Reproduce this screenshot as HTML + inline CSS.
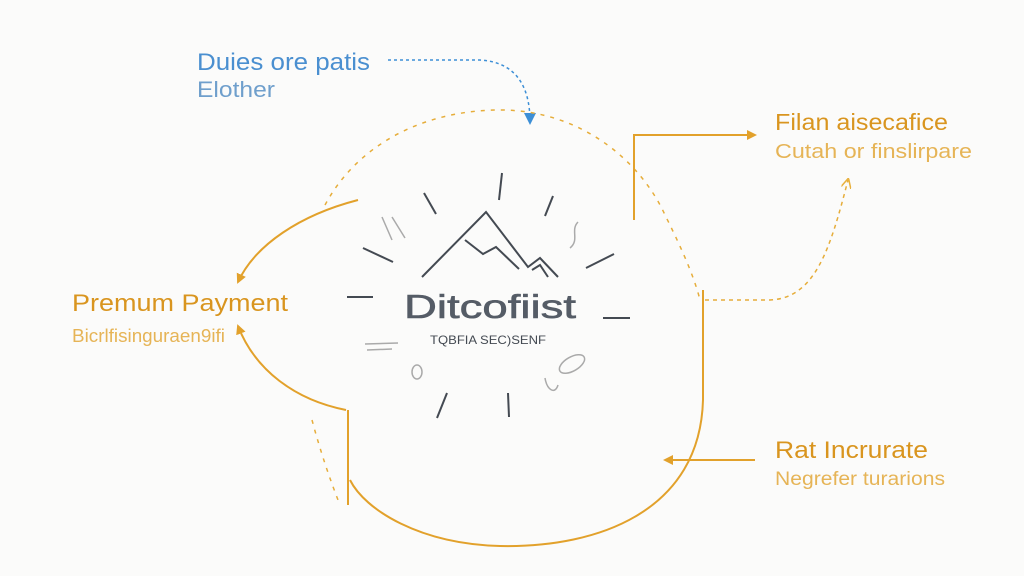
<!DOCTYPE html>
<html><head><meta charset="utf-8"><style>
html,body{margin:0;padding:0;background:#fbfbfa;}
svg{display:block;}
text{font-family:"Liberation Sans",sans-serif;}
</style></head><body>
<svg width="1024" height="576" viewBox="0 0 1024 576" xmlns="http://www.w3.org/2000/svg">
<defs>
<marker id="ao" markerWidth="10" markerHeight="10" refX="8" refY="5" orient="auto" markerUnits="userSpaceOnUse"><path d="M0,0 L10,5 L0,10 Z" fill="#e2a12b"/></marker>
<marker id="aol" markerWidth="10" markerHeight="10" refX="8" refY="5" orient="auto" markerUnits="userSpaceOnUse"><path d="M0,0 L10,5 L0,10" fill="none" stroke="#e8b03c" stroke-width="1.5"/></marker>
<marker id="ab" markerWidth="12" markerHeight="12" refX="9" refY="6" orient="auto" markerUnits="userSpaceOnUse"><path d="M0,0 L12,6 L0,12 Z" fill="#3d8fd6"/></marker>
</defs>
<rect width="1024" height="576" fill="#fbfbfa"/>
<!-- blue -->
<text x="197" y="70" font-size="24" fill="#4a8fd0" textLength="173" lengthAdjust="spacingAndGlyphs">Duies ore patis</text>
<text x="197" y="97" font-size="22" fill="#6f9fcc" textLength="78" lengthAdjust="spacingAndGlyphs">Elother</text>
<path d="M388,60 L480,60 C515,62 530,85 530,122" fill="none" stroke="#3d8fd6" stroke-width="1.5" stroke-dasharray="3,3" marker-end="url(#ab)"/>
<!-- dashed orange arcs -->
<path d="M325,205 C360,140 430,110 500,110 C580,110 640,160 665,215 C685,255 695,280 700,300" fill="none" stroke="#e6ad3a" stroke-width="1.5" stroke-dasharray="4,6"/>
<path d="M312,420 C320,450 330,480 340,505" fill="none" stroke="#e6ad3a" stroke-width="1.5" stroke-dasharray="4,6"/>
<path d="M705,300 L770,300 C815,298 830,250 848,180" fill="none" stroke="#e6ad3a" stroke-width="1.5" stroke-dasharray="4,4" marker-end="url(#aol)"/>
<!-- solid orange -->
<path d="M634,220 L634,135 L755,135" fill="none" stroke="#e2a12b" stroke-width="2" marker-end="url(#ao)"/>
<path d="M358,200 C300,215 255,245 238,282" fill="none" stroke="#e2a12b" stroke-width="2" marker-end="url(#ao)"/>
<path d="M346,410 C295,400 255,370 238,326" fill="none" stroke="#e2a12b" stroke-width="2" marker-end="url(#ao)"/>
<path d="M348,410 L348,505" fill="none" stroke="#e2a12b" stroke-width="2"/>
<path d="M703,290 L703,400 C700,510 600,548 500,546 C420,544 365,510 350,480" fill="none" stroke="#e2a12b" stroke-width="2"/>
<path d="M755,460 L665,460" fill="none" stroke="#e2a12b" stroke-width="2" marker-end="url(#ao)"/>
<!-- labels -->
<text x="775" y="130" font-size="23" fill="#d9951f" textLength="173" lengthAdjust="spacingAndGlyphs">Filan aisecafice</text>
<text x="775" y="158" font-size="20" fill="#e6b456" textLength="197" lengthAdjust="spacingAndGlyphs">Cutah or finslirpare</text>
<text x="72" y="311" font-size="24" fill="#d9951f" textLength="216" lengthAdjust="spacingAndGlyphs">Premum Payment</text>
<text x="72" y="342" font-size="18" fill="#e6b456" textLength="153" lengthAdjust="spacingAndGlyphs">Bicrlfisinguraen9ifi</text>
<text x="775" y="458" font-size="24" fill="#d9951f" textLength="153" lengthAdjust="spacingAndGlyphs">Rat Incrurate</text>
<text x="775" y="485" font-size="19" fill="#e6b456" textLength="170" lengthAdjust="spacingAndGlyphs">Negrefer turarions</text>
<!-- center logo -->
<g stroke="#444a52" stroke-width="2" fill="none">
<line x1="502" y1="173" x2="499" y2="200"/>
<line x1="424" y1="193" x2="436" y2="214"/>
<line x1="553" y1="196" x2="545" y2="216"/>
<line x1="363" y1="248" x2="393" y2="262"/>
<line x1="586" y1="268" x2="614" y2="254"/>
<line x1="347" y1="297" x2="373" y2="297"/>
<line x1="603" y1="318" x2="630" y2="318"/>
<line x1="447" y1="393" x2="437" y2="418"/>
<line x1="508" y1="393" x2="509" y2="417"/>
<path d="M422,277 L486,212 L528,267 L540,258 L558,277"/>
<path d="M465,240 L483,254 L496,247 L519,269"/>
<path d="M532,270 L540,265 L548,277"/>
</g>
<g stroke="#aaaaaa" stroke-width="1.5" fill="none">
<path d="M382,217 L392,240 M392,217 L405,238"/>
<path d="M578,222 C570,230 580,240 570,248"/>
<ellipse cx="417" cy="372" rx="5" ry="7"/>
<ellipse cx="572" cy="364" rx="14" ry="7" transform="rotate(-30 572 364)"/>
<path d="M545,378 C547,390 555,395 558,385"/>
<path d="M365,344 L398,343 M367,350 L392,349"/>
</g>
<text x="404" y="318" font-size="33" fill="#555c66" stroke="#555c66" stroke-width="0.6" textLength="172" lengthAdjust="spacingAndGlyphs">Ditcofiist</text>
<text x="430" y="344" font-size="12" fill="#444a52" textLength="116" lengthAdjust="spacingAndGlyphs">TQBFIA  SEC)SENF</text>
</svg>
</body></html>
